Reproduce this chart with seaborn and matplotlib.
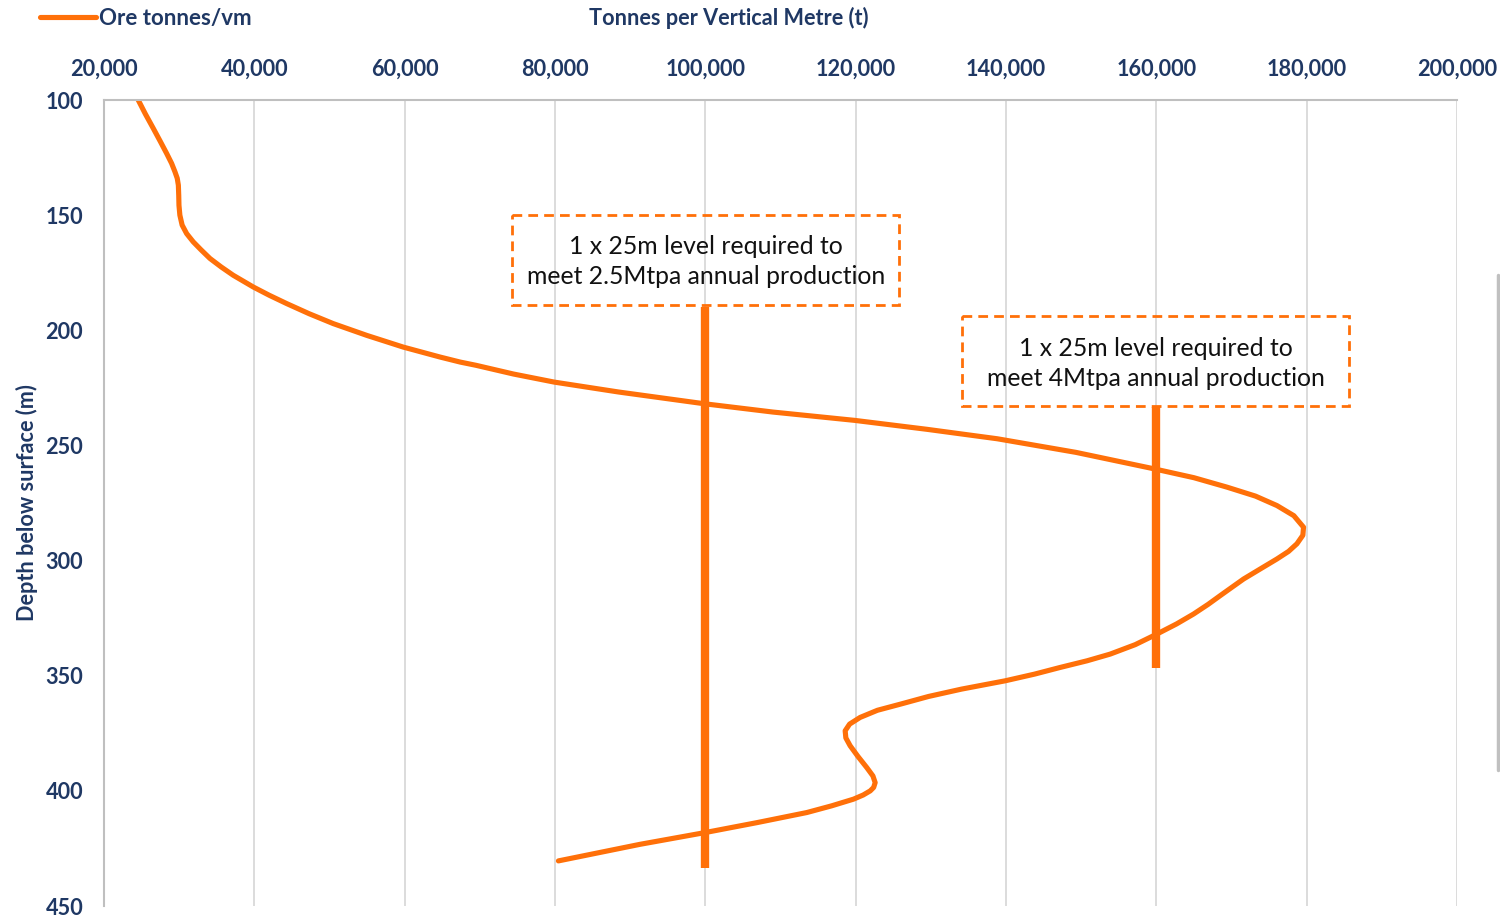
import matplotlib
matplotlib.use("Agg")
import matplotlib.pyplot as plt
from matplotlib.patches import Rectangle
from matplotlib.lines import Line2D
from matplotlib.ticker import FuncFormatter, MultipleLocator
import seaborn as sns
import pandas as pd

# Ore tonnes per vertical metre vs depth
depth_m = [100, 106, 112.3, 118, 123.2, 127.5, 131.2, 134, 137, 141.5, 145.7, 150, 154.3, 158,
           161.6, 165, 168.8, 172.5, 176.1, 181.2, 184.8, 188.4, 192.8, 197.1, 202.2, 207.3,
           211.6, 213.8, 215.2, 219, 222.5, 226.8, 231.9, 235.5, 239.1, 243, 247.1, 253,
           260.1, 264, 268.1, 272, 276.1, 280.5, 285.5, 289, 292.7, 296, 299.3, 303.5, 308,
           311.5, 315.2, 319, 323.2, 327.5, 331.9, 336.5, 340.6, 343.5, 346.4, 349.3, 352.2,
           355.8, 359, 362.3, 365, 368.1, 371, 373.9, 377, 380.4, 385, 389.9, 393.5, 396.4,
           398.5, 400, 401.8, 403.6, 406.5, 409.4, 413.8, 418.1, 423.2, 430.4]
tonnes_vm = [24560, 25500, 26560, 27500, 28340, 29000, 29450, 29750, 29900, 29950, 29980, 30100, 30400, 31000,
             31880, 32900, 34100, 35600, 37200, 39870, 42000, 44310, 47300, 50510, 54960, 59830,
             64700, 67400, 69500, 74500, 79920, 88480, 99890, 109000, 119840, 129500, 138850, 149300,
             159630, 165000, 169400, 173200, 176050, 178300, 179590, 179500, 178710, 177600, 176050, 173900, 171610,
             170100, 168510, 166900, 164960, 162700, 160080, 157200, 153870, 150800, 147210, 143800, 139900,
             134100, 129700, 126000, 122900, 120600, 119200, 118610, 118700, 119270, 120300, 121490, 122300, 122600,
             122400, 121940, 121000, 119710, 116800, 113510, 106850, 99970, 91320, 80460]

# required level lines
level_x = [100000, 160000]
level_top = [190, 233.5]
level_bottom = [433.5, 346.5]
level_text = ["1 x 25m level required to\nmeet 2.5Mtpa annual production",
              "1 x 25m level required to\nmeet 4Mtpa annual production"]
box_x = [74300, 134200]
box_y = [150, 194]

orange = "#FF7009"
navy = "#1F3864"

sns.set_style("white")
plt.rcParams["font.family"] = ["Lato", "DejaVu Sans"]

df = pd.DataFrame({"depth": depth_m, "tonnes": tonnes_vm})

fig = plt.figure(figsize=(15, 9.15), dpi=100)
ax = fig.add_axes([0.0693, 0.0098, 0.902, 0.8809])

sns.lineplot(data=df, x="tonnes", y="depth", sort=False, estimator=None,
             color=orange, linewidth=3.7, ax=ax, label="Ore tonnes/vm")
ax.lines[0].set_solid_capstyle("round")
ax.lines[0].set_solid_joinstyle("round")

for x, y0, y1 in zip(level_x, level_top, level_bottom):
    ax.plot([x, x], [y0, y1], color=orange, linewidth=6, solid_capstyle="butt", zorder=3)

for bx, by, txt in zip(box_x, box_y, level_text):
    w, h = 51500, 39
    ax.add_patch(Rectangle((bx, by), w, h, fill=False, edgecolor=orange,
                           linestyle=(0, (3.5, 2.2)), linewidth=2, zorder=4))
    ax.text(bx + w / 2, by + h / 2 + 0.8, txt, ha="center", va="center",
            fontsize=17.8, color="#111111", linespacing=1.36, zorder=5)

ax.set_xlim(20000, 200000)
ax.set_ylim(450, 100)
ax.xaxis.set_major_locator(MultipleLocator(20000))
ax.yaxis.set_major_locator(MultipleLocator(50))
ax.xaxis.set_major_formatter(FuncFormatter(lambda v, p: f"{int(v):,}"))
ax.xaxis.tick_top()
ax.xaxis.set_label_position("top")
ax.tick_params(axis="both", length=0, labelsize=15.6, labelcolor=navy)
ax.tick_params(axis="x", pad=14.5)
ax.tick_params(axis="y", pad=15)
for lab in ax.get_xticklabels() + ax.get_yticklabels():
    lab.set_fontweight("bold")

ax.grid(axis="x", color="#D9D9D9", linewidth=1.3)
ax.grid(axis="y", visible=False)
for s in ["right", "bottom"]:
    ax.spines[s].set_visible(False)
for s in ["top", "left"]:
    ax.spines[s].set_color("#BFBFBF")
    ax.spines[s].set_linewidth(1.5)

ax.set_xlabel("Tonnes per Vertical Metre (t)", fontsize=15.6, fontweight="bold", color=navy)
ax.set_ylabel("Depth below surface (m)", fontsize=15.6, fontweight="bold", color=navy)
ax.xaxis.set_label_coords(0.462, 1.102)
ax.xaxis.label.set_va("center")
ax.yaxis.set_label_coords(-0.057, 0.5)
ax.yaxis.label.set_va("center")

leg = ax.legend(loc="center left", bbox_to_anchor=(-0.0473, 1.1017), frameon=False,
                fontsize=16, handlelength=2.5, handletextpad=0.15, borderpad=0,
                borderaxespad=0)
for t in leg.get_texts():
    t.set_color(navy)
    t.set_fontweight("bold")

fig.add_artist(Line2D([0.9985, 0.9985], [1 - 275 / 915, 1 - 770 / 915],
                      transform=fig.transFigure, color="#C0C0C0", linewidth=2.5))

fig.savefig("out.png", dpi=100, facecolor="white")
